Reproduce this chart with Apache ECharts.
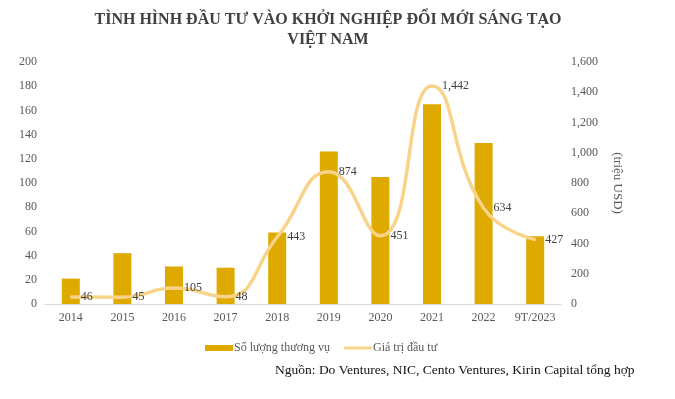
<!DOCTYPE html>
<html>
<head>
<meta charset="utf-8">
<script src="https://cdn.jsdelivr.net/npm/echarts@6/dist/echarts.min.js"></script>
<style>
  html, body { margin: 0; padding: 0; background: #fff; }
  #chart { width: 675px; height: 399px; }
</style>
</head>
<body>
<div id="chart"></div>
<script>
const years = ['2014', '2015', '2016', '2017', '2018', '2019', '2020', '2021', '2022', '9T/2023'];
const dealCount = [21, 42, 31, 30, 59, 126, 105, 165, 133, 56];
const investValue = [46, 45, 105, 48, 443, 874, 451, 1442, 634, 427];
const leftTicks = [0, 200, 20];
const rightTicks = [0, 1600, 200];

const serif = '"Liberation Serif", "DejaVu Serif", serif';
const gray = '#595959';
const lineColor = '#F8D38A';

const chart = echarts.init(document.getElementById('chart'));
chart.setOption({
  animation: false,
  textStyle: { fontFamily: serif },
  title: {
    text: 'TÌNH HÌNH ĐẦU TƯ VÀO KHỞI NGHIỆP ĐỔI MỚI SÁNG TẠO\nVIỆT NAM',
    left: 323,
    top: 5,
    textAlign: 'center',
    textStyle: {
      fontFamily: serif, fontSize: 16, fontWeight: 'bold', color: '#404040', lineHeight: 20
    }
  },
  graphic: [{
    type: 'text',
    left: 275,
    top: 363,
    style: {
      text: 'Nguồn: Do Ventures, NIC, Cento Ventures, Kirin Capital tổng hợp',
      font: '13.5px ' + serif,
      fill: '#111'
    }
  }],
  legend: {
    left: 200,
    top: 337,
    itemGap: 14,
    itemWidth: 28,
    itemHeight: 6,
    textStyle: { fontFamily: serif, fontSize: 12, color: gray, padding: [0, 0, 0, -4] },
    data: [
      { name: 'Số lượng thương vụ', icon: 'rect' },
      { name: 'Giá trị đầu tư', icon: 'path://M0,0 L28,0 L28,3 L0,3 Z' }
    ]
  },
  grid: { left: 45, right: 114, top: 62, bottom: 95 },
  xAxis: {
    type: 'category',
    data: years,
    axisLine: { lineStyle: { color: '#d9d9d9' } },
    axisTick: { show: false },
    axisLabel: { fontFamily: serif, fontSize: 12, color: gray, margin: 8, interval: 0 }
  },
  yAxis: [{
    type: 'value',
    min: leftTicks[0], max: leftTicks[1], interval: leftTicks[2],
    splitLine: { show: false },
    axisLabel: { fontFamily: serif, fontSize: 12, color: gray, margin: 8 }
  }, {
    type: 'value',
    min: rightTicks[0], max: rightTicks[1], interval: rightTicks[2],
    splitLine: { show: false },
    name: '(triệu USD)',
    nameLocation: 'middle',
    nameRotate: -90,
    nameGap: 50,
    nameTextStyle: { fontFamily: serif, fontSize: 13, color: gray },
    axisLabel: {
      fontFamily: serif, fontSize: 12, color: gray, margin: 10,
      formatter: v => v.toLocaleString('en-US')
    }
  }],
  series: [{
    name: 'Số lượng thương vụ',
    type: 'bar',
    data: dealCount,
    barWidth: 18,
    itemStyle: { color: '#DFAA00' }
  }, {
    name: 'Giá trị đầu tư',
    type: 'line',
    yAxisIndex: 1,
    data: investValue,
    smooth: 0.5,
    symbol: 'circle',
    symbolSize: 2,
    showSymbol: true,
    lineStyle: { color: lineColor, width: 3.5 },
    itemStyle: { color: lineColor },
    label: {
      show: true,
      position: 'right',
      distance: 9,
      fontFamily: serif,
      fontSize: 12,
      color: '#404040',
      formatter: p => p.value.toLocaleString('en-US')
    }
  }]
});
</script>
</body>
</html>
